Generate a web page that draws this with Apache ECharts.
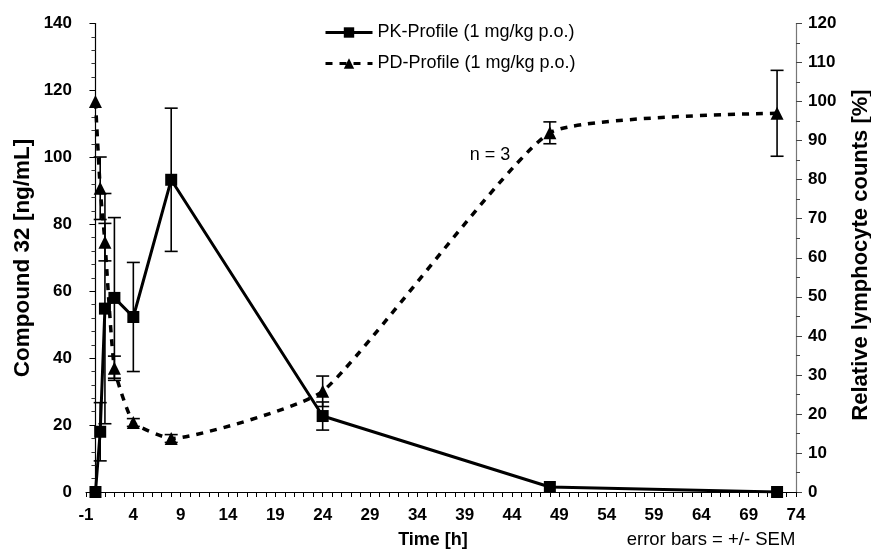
<!DOCTYPE html>
<html>
<head>
<meta charset="utf-8">
<script src="https://cdn.jsdelivr.net/npm/echarts@6/dist/echarts.min.js"></script>
<style>
  html, body { margin: 0; padding: 0; background: #fff; }
  #chart { width: 871px; height: 551px; }
</style>
</head>
<body>
<div id="chart"></div>
<script>
// ---- data ----
var times = [0, 0.5, 1, 2, 4, 8, 24, 48, 72];
var pkMean = [0, 18, 54.8, 58, 52.3, 93.3, 22.7, 1.5, 0];
var pkSem  = [0, 8.7, 34.4, 24, 16.3, 21.4, 4.2, 0, 0];
var pdMean = [100, 77.8, 64, 31.7, 17.8, 13.7, 25.8, 92, 97];
var pdSem  = [0, 8, 4.8, 3.1, 1, 1, 3.9, 2.8, 11];
var pkName = 'PK-Profile (1 mg/kg p.o.)';
var pdName = 'PD-Profile (1 mg/kg p.o.)';

var FONT = 'Liberation Sans, Arial, sans-serif';

function pairs(xs, ys) { return xs.map(function (x, i) { return [x, ys[i]]; }); }
function errData(xs, m, s) {
  var out = [];
  xs.forEach(function (x, i) { if (s[i] > 0) out.push([x, m[i] - s[i], m[i] + s[i]]); });
  return out;
}
function errRender(params, api) {
  var x = api.value(0), lo = api.value(1), hi = api.value(2);
  var p1 = api.coord([x, hi]), p2 = api.coord([x, lo]);
  var w = 6.5;
  var st = { stroke: '#000', lineWidth: 1.6 };
  return {
    type: 'group',
    children: [
      { type: 'line', shape: { x1: p1[0], y1: p1[1], x2: p2[0], y2: p2[1] }, style: st },
      { type: 'line', shape: { x1: p1[0] - w, y1: p1[1], x2: p1[0] + w, y2: p1[1] }, style: st },
      { type: 'line', shape: { x1: p2[0] - w, y1: p2[1], x2: p2[0] + w, y2: p2[1] }, style: st }
    ]
  };
}

var chart = echarts.init(document.getElementById('chart'));
var tickLabel = { color: '#000', fontFamily: FONT, fontWeight: 'bold', fontSize: 17 };

chart.setOption({
  animation: false,
  backgroundColor: '#fff',
  grid: { left: 86, right: 75, top: 23.5, bottom: 59 },
  legend: {
    data: [pkName, pdName],
    orient: 'vertical',
    left: 319,
    top: 18.5,
    itemWidth: 47,
    itemHeight: 13,
    itemGap: 13,
    lineStyle: { width: 3 },
    textStyle: { color: '#000', fontFamily: FONT, fontSize: 18, lineHeight: 18 }
  },
  xAxis: {
    type: 'value',
    min: -1, max: 74, interval: 5,
    axisLine: { show: true, onZero: false, lineStyle: { color: '#000', width: 1.2 } },
    axisTick: { show: true, length: 5, lineStyle: { color: '#000' } },
    minorTick: { show: true, splitNumber: 5, length: 5, lineStyle: { color: '#000' } },
    splitLine: { show: false },
    axisLabel: Object.assign({ margin: 15, showMinLabel: true, showMaxLabel: true }, tickLabel)
  },
  yAxis: [
    {
      type: 'value', min: 0, max: 140, interval: 20, position: 'left',
      axisLine: { show: true, lineStyle: { color: '#000', width: 1.2 } },
      axisTick: { show: true, length: 6, lineStyle: { color: '#000' } },
      minorTick: { show: true, splitNumber: 5, length: 4, lineStyle: { color: '#333' } },
      splitLine: { show: false },
      axisLabel: Object.assign({ margin: 14 }, tickLabel)
    },
    {
      type: 'value', min: 0, max: 120, interval: 10, position: 'right',
      axisLine: { show: true, lineStyle: { color: '#777', width: 1.2 } },
      axisTick: { show: true, length: 6, lineStyle: { color: '#444' } },
      minorTick: { show: true, splitNumber: 2, length: 4, lineStyle: { color: '#444' } },
      splitLine: { show: false },
      axisLabel: Object.assign({ margin: 12 }, tickLabel)
    }
  ],
  graphic: [
    { type: 'text', x: 22.5, y: 258, rotation: Math.PI / 2,
      style: { text: 'Compound 32 [ng/mL]', fill: '#000', font: 'bold 22.5px ' + FONT, textAlign: 'center', textVerticalAlign: 'middle' } },
    { type: 'text', x: 861, y: 255, rotation: Math.PI / 2,
      style: { text: 'Relative lymphocyte counts [%]', fill: '#000', font: 'bold 22px ' + FONT, textAlign: 'center', textVerticalAlign: 'middle' } },
    { type: 'text', x: 433, y: 540,
      style: { text: 'Time [h]', fill: '#000', font: 'bold 18px ' + FONT, textAlign: 'center', textVerticalAlign: 'middle' } },
    { type: 'text', x: 711, y: 540,
      style: { text: 'error bars = +/- SEM', fill: '#000', font: '18.5px ' + FONT, textAlign: 'center', textVerticalAlign: 'middle' } },
    { type: 'text', x: 490, y: 155,
      style: { text: 'n = 3', fill: '#000', font: '18px ' + FONT, textAlign: 'center', textVerticalAlign: 'middle' } }
  ],
  series: [
    {
      name: pdName, type: 'line', yAxisIndex: 1,
      data: pairs(times, pdMean),
      symbol: 'triangle', symbolSize: 13,
      smooth: 0.15,
      lineStyle: { color: '#000', width: 3.5, type: [7, 7], cap: 'butt' },
      itemStyle: { color: '#000' },
      z: 3
    },
    {
      name: 'pdErr', type: 'custom', yAxisIndex: 1,
      data: errData(times, pdMean, pdSem),
      renderItem: errRender, clip: false,
      encode: { x: 0, y: [1, 2] },
      z: 4
    },
    {
      name: pkName, type: 'line', yAxisIndex: 0,
      data: pairs(times, pkMean),
      symbol: 'rect', symbolSize: 12,
      lineStyle: { color: '#000', width: 3 },
      itemStyle: { color: '#000' },
      z: 5
    },
    {
      name: 'pkErr', type: 'custom', yAxisIndex: 0,
      data: errData(times, pkMean, pkSem),
      renderItem: errRender, clip: false,
      encode: { x: 0, y: [1, 2] },
      z: 6
    }
  ]
});
</script>
</body>
</html>
